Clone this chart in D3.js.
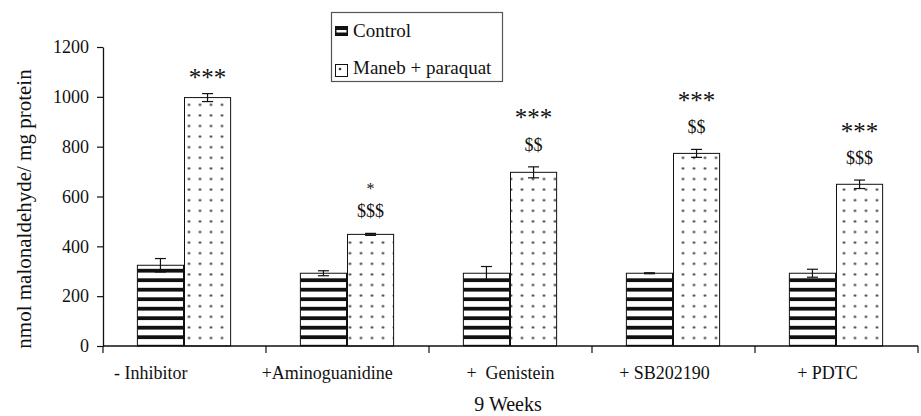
<!DOCTYPE html>
<html>
<head>
<meta charset="utf-8">
<script src="https://cdn.jsdelivr.net/npm/d3@7"></script>
<style>
  body { margin: 0; background: #fff; }
  .xlab { white-space: pre; }
</style>
</head>
<body>
<script>
// data
var categories = ["- Inhibitor", "+Aminoguanidine", "+  Genistein", "+ SB202190", "+ PDTC"];
// labels are padded with spaces the way they sit in the original
var tickText = ["- Inhibitor               ", "+Aminoguanidine         ", "+  Genistein", "+ SB202190    ", "+ PDTC    "];
var series = ["Control", "Maneb + paraquat"];
var controlMean = [324, 292, 292, 292, 292];
var controlErr = [27, 10, 27, 2, 16];
var mpMean = [997, 448, 697, 773, 649];
var mpErr = [16, 4, 22, 16, 17];
var stars = ["***", "*", "***", "***", "***"];
var dollars = ["", "$$$", "$$", "$$", "$$$"];
var yTicks = [0, 200, 400, 600, 800, 1000, 1200];

var width = 921, height = 416;
var fontName = "'Tinos'";

var svg = d3.select("body")
    .append("svg")
    .attr("width", width)
    .attr("height", height)
    .style("font-family", fontName);

var x = d3.scaleBand()
    .domain(categories)
    .range([103, 918])
    .padding(0);

var x1 = d3.scaleBand()
    .domain(series)
    .range([0, x.bandwidth()])
    .paddingInner(0)
    .paddingOuter(0.73);

var y = d3.scaleLinear()
    .domain([0, 1200])
    .range([346, 47]);

var rows = categories.map(function(c, i) {
  return [
    {cat: c, key: series[0], v: controlMean[i], e: controlErr[i], i: i},
    {cat: c, key: series[1], v: mpMean[i], e: mpErr[i], i: i}
  ];
});

// patterns
var defs = svg.append("defs");

var stripe = defs.append("pattern")
    .attr("id", "stripes")
    .attr("patternUnits", "userSpaceOnUse")
    .attr("x", 0)
    .attr("y", y(0) - 10.7)
    .attr("width", 20)
    .attr("height", 9.5);
stripe.append("rect").attr("width", 20).attr("height", 9.5).attr("fill", "#fff");
stripe.append("rect").attr("width", 20).attr("height", 3.8).attr("fill", "#111");

// one dot pattern per bar so the dots line up with its left edge
defs.selectAll("pattern.dots")
    .data(categories)
    .enter().append("pattern")
    .attr("class", "dots")
    .attr("id", function(d, i) { return "dots" + i; })
    .attr("patternUnits", "userSpaceOnUse")
    .attr("x", function(d) { return x(d) + x1(series[1]) - 5; })
    .attr("y", y(0) - 13.3)
    .attr("width", 11)
    .attr("height", 10.6)
    .each(function() {
      var p = d3.select(this);
      p.append("rect").attr("width", 11).attr("height", 10.6).attr("fill", "#fff");
      p.append("circle").attr("cx", 5.5).attr("cy", 5.3).attr("r", 1.2).attr("fill", "#333");
    });

// bars
var groups = svg.append("g")
  .selectAll("g")
  .data(rows)
  .enter().append("g")
    .attr("transform", function(d) { return "translate(" + x(d[0].cat) + ",0)"; });

groups.selectAll("rect")
  .data(function(d) { return d; })
  .enter().append("rect")
    .attr("x", function(d) { return x1(d.key); })
    .attr("y", function(d) { return y(d.v); })
    .attr("width", x1.bandwidth() - 1)
    .attr("height", function(d) { return y(0) - y(d.v); })
    .attr("fill", function(d) { return d.key == series[0] ? "url(#stripes)" : "url(#dots" + d.i + ")"; })
    .attr("stroke", "#111")
    .attr("stroke-width", 1);

// error bars
var eb = groups.selectAll("g.err")
  .data(function(d) { return d; })
  .enter().append("g")
    .attr("class", "err")
    .attr("stroke", "#111")
    .attr("stroke-width", 1.2);

function cx(d) { return x1(d.key) + (x1.bandwidth() - 1) / 2; }

eb.append("line")
    .attr("x1", cx).attr("x2", cx)
    .attr("y1", function(d) { return y(d.v + d.e); })
    .attr("y2", function(d) { return y(d.v - d.e); });
eb.append("line")
    .attr("x1", function(d) { return cx(d) - 5.5; })
    .attr("x2", function(d) { return cx(d) + 5.5; })
    .attr("y1", function(d) { return y(d.v + d.e); })
    .attr("y2", function(d) { return y(d.v + d.e); });
eb.append("line")
    .attr("x1", function(d) { return cx(d) - 5.5; })
    .attr("x2", function(d) { return cx(d) + 5.5; })
    .attr("y1", function(d) { return y(d.v - d.e); })
    .attr("y2", function(d) { return y(d.v - d.e); });

// significance marks above the maneb bars
var notes = svg.append("g")
  .selectAll("g")
  .data(rows.map(function(r) { return r[1]; }))
  .enter().append("g")
    .attr("transform", function(d) { return "translate(" + (x(d.cat) + cx(d)) + ",0)"; })
    .attr("text-anchor", "middle")
    .attr("fill", "#111");

function dollarCenter(d) { return y(d.v + d.e) - 22; }
function starCenter(d) {
  if (!dollars[d.i]) return y(d.v + d.e) - 20;
  return dollarCenter(d) - (stars[d.i].length > 1 ? 31 : 25);
}

notes.append("text")
    .style("font-family", fontName)
    .attr("font-size", function(d) { return stars[d.i].length > 1 ? 25 : 16; })
    .attr("y", function(d) { return starCenter(d) + (stars[d.i].length > 1 ? 12.5 : 8); })
    .text(function(d) { return stars[d.i]; });

notes.append("text")
    .style("font-family", fontName)
    .attr("font-size", 18)
    .attr("y", function(d) { return dollarCenter(d) + 6; })
    .text(function(d) { return dollars[d.i]; });

// y axis
var yAxis = svg.append("g")
    .attr("transform", "translate(103,0)")
    .call(d3.axisLeft(y).tickValues(yTicks).tickFormat(d3.format("d"))
      .tickSize(6).tickPadding(8).tickSizeOuter(0));
yAxis.attr("font-family", null);
yAxis.select(".domain").attr("stroke", "#111").attr("stroke-width", 1.3);
yAxis.selectAll(".tick line").attr("stroke", "#111").attr("stroke-width", 1.2);
yAxis.selectAll(".tick text")
    .style("font-family", fontName)
    .attr("font-size", 18)
    .attr("fill", "#111");

// x axis: line, ticks between categories, labels centred on each group
var xAxis = svg.append("g");
xAxis.append("line")
    .attr("x1", x.range()[0]).attr("x2", x.range()[1])
    .attr("y1", y(0)).attr("y2", y(0))
    .attr("stroke", "#111").attr("stroke-width", 1.3);
xAxis.selectAll("line.tk")
    .data(categories.map(function(c) { return x(c); }).concat([x.range()[1]]))
    .enter().append("line")
    .attr("class", "tk")
    .attr("x1", function(d) { return d; }).attr("x2", function(d) { return d; })
    .attr("y1", y(0)).attr("y2", y(0) + 7)
    .attr("stroke", "#111").attr("stroke-width", 1.2);
xAxis.selectAll("text")
    .data(categories)
    .enter().append("text")
    .attr("class", "xlab")
    .style("font-family", fontName)
    .attr("x", function(d) { return x(d) + x.bandwidth() / 2; })
    .attr("y", 379)
    .attr("text-anchor", "middle")
    .attr("font-size", 18)
    .attr("fill", "#111")
    .text(function(d, i) { return tickText[i]; });

// axis titles
svg.append("text")
    .style("font-family", fontName)
    .attr("x", 508)
    .attr("y", 411)
    .attr("text-anchor", "middle")
    .attr("font-size", 20)
    .attr("fill", "#111")
    .text("9 Weeks");

svg.append("text")
    .style("font-family", fontName)
    .attr("transform", "translate(31,209) rotate(-90)")
    .attr("text-anchor", "middle")
    .attr("font-size", 21)
    .attr("fill", "#111")
    .text("nmol malonaldehyde/ mg protein");

// legend
var legend = svg.append("g");
legend.append("rect")
    .attr("x", 331.5).attr("y", 12.5)
    .attr("width", 171).attr("height", 69)
    .attr("fill", "#fff")
    .attr("stroke", "#555")
    .attr("stroke-width", 1.2);

var items = legend.selectAll("g")
  .data(series)
  .enter().append("g")
    .attr("transform", function(d, i) { return "translate(335," + (i == 0 ? 26 : 64) + ")"; });

items.each(function(d, i) {
  var g = d3.select(this);
  if (i == 0) {
    g.append("rect").attr("width", 13).attr("height", 10).attr("fill", "#111");
    g.append("rect").attr("x", 1.5).attr("y", 4).attr("width", 10).attr("height", 2.5).attr("fill", "#fff");
  } else {
    g.append("rect").attr("x", 0.5).attr("y", 0.5).attr("width", 12).attr("height", 12)
      .attr("fill", "#fff").attr("stroke", "#111").attr("stroke-width", 1);
    g.append("circle").attr("cx", 5).attr("cy", 5).attr("r", 1.3).attr("fill", "#333");
  }
});

items.append("text")
    .style("font-family", fontName)
    .attr("x", 18)
    .attr("y", function(d, i) { return i == 0 ? 11 : 10; })
    .attr("font-size", 19)
    .attr("fill", "#111")
    .text(function(d) { return d; });
</script>
</body>
</html>
